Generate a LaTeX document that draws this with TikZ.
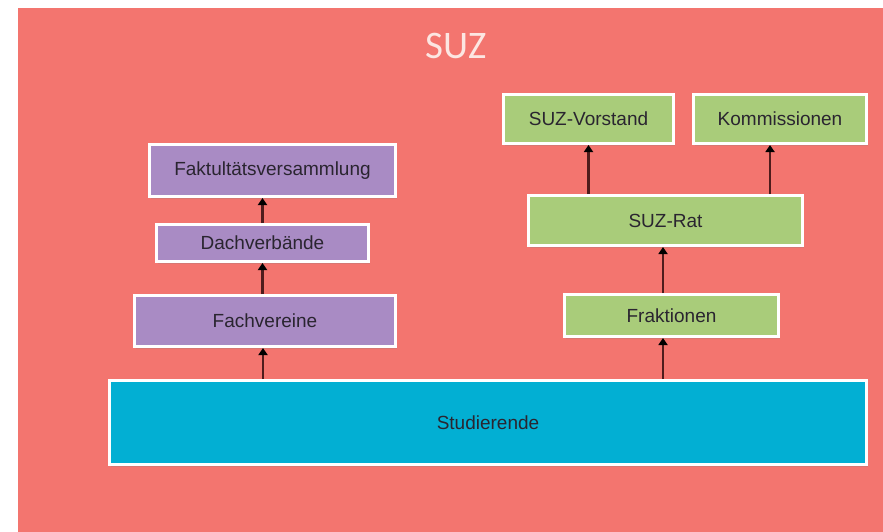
\documentclass[tikz,border=0pt]{standalone}
\usepackage{fontspec}
\setmainfont{Liberation Sans}
\newfontfamily\titlefont{Carlito}
\usetikzlibrary{positioning,arrows.meta,shadows}
\definecolor{suzred}{HTML}{F3756F}
\definecolor{suzpurple}{HTML}{A98BC4}
\definecolor{suzgreen}{HTML}{A9CC7A}
\definecolor{suzblue}{HTML}{02AFD3}
\definecolor{boxtext}{HTML}{2A2530}
\definecolor{arrowline}{HTML}{4E1C1C}
\definecolor{titletext}{HTML}{FCE6E2}
\tikzset{
  box/.style={draw=white, line width=3pt, inner sep=0pt, text=boxtext,
    font=\fontsize{19}{22}\selectfont,
    drop shadow={opacity=0.25, shadow xshift=1pt, shadow yshift=-2pt}},
  arr/.style={draw=arrowline, line width=2.2pt, -{Triangle[width=9pt,length=7pt,fill=black,color=black]}}
}
\begin{document}
\begin{tikzpicture}[x=1pt,y=-1pt]
	%Background
	\fill[white] (0,0) rectangle (883,532);
	\fill[suzred] (18,8) rectangle (883,532);
	\node[text=titletext, font=\titlefont\fontsize{39}{44}\selectfont] (title) at (456,46) {SUZ};
	
	%Students
	\node[box, fill=suzblue, minimum width=757pt, minimum height=84pt] (studs) at (488,422.5) {Studierende};
	
	%Left column
	\node[box, fill=suzpurple, minimum width=261pt, minimum height=51pt] (fach) at (265,321) {Fachvereine};
	\node[box, fill=suzpurple, minimum width=212pt, minimum height=37pt] (dach) at (262.5,243) {Dachverbände};
	\node[box, fill=suzpurple, minimum width=246pt, minimum height=52pt] (fakt) at (272.5,170.5) {Faktultätsversammlung};
	
	%Right column
	\node[box, fill=suzgreen, minimum width=214pt, minimum height=42pt] (frak) at (671.5,315.5) {Fraktionen};
	\node[box, fill=suzgreen, minimum width=274pt, minimum height=50pt] (rat) at (665.5,220.5) {SUZ-Rat};
	\node[box, fill=suzgreen, minimum width=170pt, minimum height=49pt] (vorst) at (588.5,119) {SUZ-Vorstand};
	\node[box, fill=suzgreen, minimum width=173pt, minimum height=49pt] (komm) at (780,119) {Kommissionen};
	
	%Arrows
	\draw[arr] ([xshift=-2pt]fach.south |- studs.north) -- ([xshift=-2pt]fach.south);
	\draw[arr] (dach.south |- fach.north) -- (dach.south);
	\draw[arr] (dach.north) -- (dach.north |- fakt.south);
	\draw[arr] ([xshift=-2.5pt]rat.south |- studs.north) -- ([xshift=-2.5pt]rat.south |- frak.south);
	\draw[arr] ([xshift=-2.5pt]rat.south |- frak.north) -- ([xshift=-2.5pt]rat.south);
	\draw[arr] (vorst.south |- rat.north) -- (vorst.south);
	\draw[arr] ([xshift=-10pt]komm.south |- rat.north) -- ([xshift=-10pt]komm.south);
\end{tikzpicture}
\end{document}
